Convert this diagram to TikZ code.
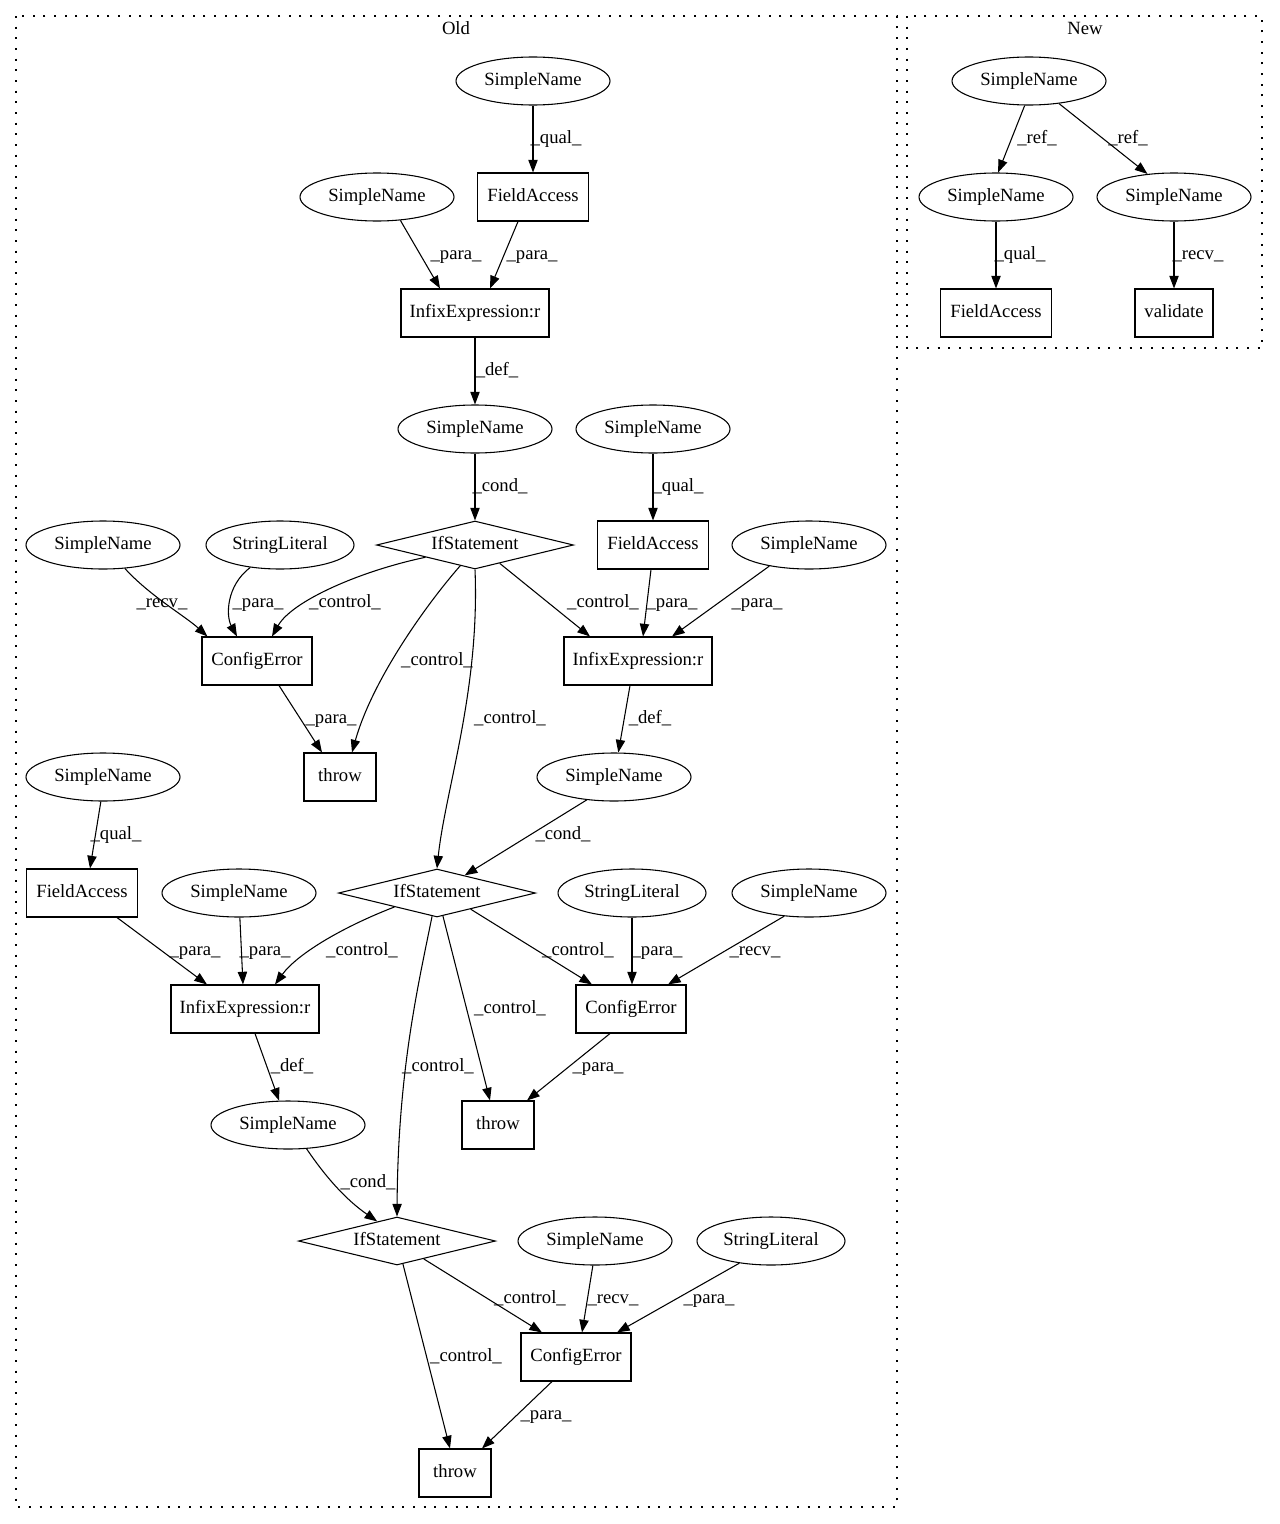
\documentclass[tikz,border=0pt]{standalone}
\usepackage{fontspec}
\setmainfont{Liberation Serif}
\usetikzlibrary{shapes.geometric,arrows.meta,calc}
\begin{document}
\begin{tikzpicture}[x=0.75pt,y=-0.75pt,
  every node/.style={font=\fontsize{14pt}{16pt}\selectfont,text height=10pt,text depth=3pt},
  ell/.style={ellipse,draw,line width=0.8pt,minimum width=115.5pt,minimum height=36pt,inner sep=0pt},
  sl/.style={ellipse,draw,line width=0.8pt,minimum width=111pt,minimum height=36pt,inner sep=0pt},
  bx/.style={rectangle,draw,line width=0.8pt,minimum height=36pt,inner sep=0pt},
  fa/.style={bx,minimum width=83.25pt},
  ie/.style={bx,minimum width=111pt},
  ce/.style={bx,minimum width=82.5pt},
  th/.style={bx,minimum width=54pt},
  dia/.style={diamond,draw,line width=0.8pt,aspect=4,minimum width=147.75pt,minimum height=36pt,inner sep=0pt},
  lbl/.style={inner sep=0pt},
  edge/.style={line width=0.8pt,-{Triangle[length=9.5pt,width=7pt]}},
  cluster/.style={draw,line width=1pt,dash pattern=on 1.5pt off 6.5pt}
]
\useasboundingbox (0,0) rectangle (1279,1524);
% clusters
\draw[cluster] (16,16) rectangle (897,1507);
\draw[cluster] (907,16) rectangle (1262,348);
\node[lbl] (oldlbl) at (456,30) {Old};
\node[lbl] (newlbl) at (1085,30) {New};

% Old nodes
\node[ell] (SN1) at (533,81) {SimpleName};
\node[fa] (FA1) at (533,197) {FieldAccess};
\node[ell] (SN2) at (377,197) {SimpleName};
\node[ie] (IE1) at (475,313) {InfixExpression:r};
\node[ell] (SN3) at (475,429) {SimpleName};
\node[dia] (IF1) at (475,545) {IfStatement};
\node[ell] (SN4) at (653,429) {SimpleName};
\node[fa] (FA2) at (653,545) {FieldAccess};
\node[ell] (SN5) at (103,545) {SimpleName};
\node[sl] (SL1) at (280,545) {StringLiteral};
\node[ell] (SN6) at (809,545) {SimpleName};
\node[ce] (CE1) at (257,661) {ConfigError};
\node[ie] (IE2) at (638,661) {InfixExpression:r};
\node[th] (TH1) at (340,777) {throw};
\node[ell] (SN7) at (614,777) {SimpleName};
\node[ell] (SN8) at (103,777) {SimpleName};
\node[fa] (FA3) at (82,893) {FieldAccess};
\node[ell] (SN9) at (239,893) {SimpleName};
\node[dia] (IF2) at (437,893) {IfStatement};
\node[sl] (SL2) at (632,893) {StringLiteral};
\node[ell] (SN10) at (809,893) {SimpleName};
\node[ie] (IE3) at (245,1009) {InfixExpression:r};
\node[ce] (CE2) at (631,1009) {ConfigError};
\node[ell] (SN11) at (288,1125) {SimpleName};
\node[th] (TH2) at (498,1125) {throw};
\node[dia] (IF3) at (397,1241) {IfStatement};
\node[ell] (SN12) at (595,1241) {SimpleName};
\node[sl] (SL3) at (771,1241) {StringLiteral};
\node[ce] (CE3) at (576,1357) {ConfigError};
\node[th] (TH3) at (455,1473) {throw};

% New nodes
\node[ell] (NSN1) at (1029,81) {SimpleName};
\node[ell] (NSN2) at (996,197) {SimpleName};
\node[ell] (NSN3) at (1174,197) {SimpleName};
\node[fa] (NFA) at (996,313) {FieldAccess};
\node[bx,minimum width=58.5pt] (NVAL) at (1174,313) {validate};

% Old edges
\draw[edge] (SN1.south) -- (FA1.north);
\node[lbl] at (556,139) {\_qual\_};
\draw[edge] (SN2.-45) -- ($(IE1.north)+(-35,0)$);
\node[lbl] at (456,255) {\_para\_};
\draw[edge] ($(FA1.south)+(-15,0)$) -- ($(IE1.north)+(15,0)$);
\node[lbl] at (532,255) {\_para\_};
\draw[edge] (IE1.south) -- (SN3.north);
\node[lbl] at (497,371) {\_def\_};
\draw[edge] (SN3.south) -- (IF1.north);
\node[lbl] at (500,487) {\_cond\_};
\draw[edge] (SN4.south) -- (FA2.north);
\node[lbl] at (678,487) {\_qual\_};

\draw[edge] (SN5.-47) .. controls (150,596) and (185,616) .. ($(CE1.north west)+(6,0)$);
\node[lbl] at (162,603) {\_recv\_};
\draw[edge] (SL1.-143) .. controls (226,586) and (226,616) .. ($(CE1.north)+(-20,0)$);
\node[lbl] at (258,603) {\_para\_};
\draw[edge] ($(IF1.west)!0.5!(IF1.south)$) .. controls (360,571) and (292,601) .. ($(CE1.north)+(15,0)$);
\node[lbl] at (345,603) {\_control\_};
\draw[edge] ($(IF1.west)!0.85!(IF1.south)$) .. controls (425,606) and (372,681) .. ($(TH1.north)+(12,0)$);
\node[lbl] at (437,661) {\_control\_};
\draw[edge] (IF1.south) .. controls (480,691) and (445,791) .. (IF2.north);
\node[lbl] at (510,719) {\_control\_};
\draw[edge] ($(IF1.south)!0.25!(IF1.east)$) -- ($(IE2.north)+(-48,0)$);
\node[lbl] at (603,603) {\_control\_};
\draw[edge] ($(FA2.south)+(-2,0)$) -- ($(IE2.north)+(5,0)$);
\node[lbl] at (672,603) {\_para\_};
\draw[edge] (SN6.-152) -- ($(IE2.north)+(34,0)$);
\node[lbl] at (757,603) {\_para\_};
\draw[edge] ($(CE1.south)+(22,0)$) -- ($(TH1.north)+(-18,0)$);
\node[lbl] at (331,719) {\_para\_};
\draw[edge] ($(IE2.south)+(-8,0)$) -- (SN7.80);
\node[lbl] at (650,719) {\_def\_};
\draw[edge] (SN7.-140) -- ($(IF2.north)!0.28!(IF2.east)$);
\node[lbl] at (563,835) {\_cond\_};
\draw[edge] (SN8.-95) -- ($(FA3.north)+(8,0)$);
\node[lbl] at (116,835) {\_qual\_};
\draw[edge] ($(FA3.south)+(35,0)$) -- ($(IE3.north)+(-38,0)$);
\node[lbl] at (195,951) {\_para\_};
\draw[edge] (SN9.-88) -- ($(IE3.north)+(-2,0)$);
\node[lbl] at (265,951) {\_para\_};
\draw[edge] ($(IF2.west)!0.57!(IF2.south)$) .. controls (345,926) and (298,953) .. ($(IE3.north)+(30,0)$);
\node[lbl] at (362,951) {\_control\_};
\draw[edge] ($(IF2.south)!0.34!(IF2.east)$) -- ($(CE2.north)+(-39,0)$);
\node[lbl] at (578,951) {\_control\_};
\draw[edge] (SL2.south) -- ($(CE2.north)+(1,0)$);
\node[lbl] at (657,951) {\_para\_};
\draw[edge] (SN10.-137) -- ($(CE2.north)+(37,0)$);
\node[lbl] at (755,951) {\_recv\_};
\draw[edge] ($(IF2.south)!0.06!(IF2.east)$) -- ($(TH2.north)+(-8,0)$);
\node[lbl] at (510,1009) {\_control\_};
\draw[edge] ($(IF2.west)!0.95!(IF2.south)$) .. controls (418,986) and (398,1071) .. (IF3.north);
\node[lbl] at (438,1067) {\_control\_};
\draw[edge] ($(CE2.south)+(-21,0)$) -- ($(TH2.north)+(29,0)$);
\node[lbl] at (598,1067) {\_para\_};
\draw[edge] ($(IE3.south)+(10,0)$) -- (SN11.110);
\node[lbl] at (292,1067) {\_def\_};
\draw[edge] (SN11.-52) .. controls (325,1176) and (345,1199) .. ($(IF3.west)!0.8!(IF3.north)$);
\node[lbl] at (368,1183) {\_cond\_};
\draw[edge] ($(IF3.south)!0.27!(IF3.east)$) -- ($(CE3.north)+(-34,0)$);
\node[lbl] at (530,1299) {\_control\_};
\draw[edge] (SN12.-95) -- ($(CE3.north)+(6,0)$);
\node[lbl] at (613,1299) {\_recv\_};
\draw[edge] (SL3.-145) -- ($(CE3.north)+(41,0)$);
\node[lbl] at (709,1299) {\_para\_};
\draw[edge] ($(IF3.south)!0.06!(IF3.east)$) -- ($(TH3.north)+(-5,0)$);
\node[lbl] at (466,1357) {\_control\_};
\draw[edge] ($(CE3.south)+(-24,0)$) -- ($(TH3.north)+(27,0)$);
\node[lbl] at (546,1415) {\_para\_};

% New edges
\draw[edge] (NSN1.-100) -- (NSN2.85);
\node[lbl] at (1037,139) {\_ref\_};
\draw[edge] (NSN1.-37) -- (NSN3.139);
\node[lbl] at (1128,139) {\_ref\_};
\draw[edge] (NSN2.south) -- (NFA.north);
\node[lbl] at (1020,255) {\_qual\_};
\draw[edge] (NSN3.south) -- (NVAL.north);
\node[lbl] at (1198,255) {\_recv\_};
\end{tikzpicture}
\end{document}
